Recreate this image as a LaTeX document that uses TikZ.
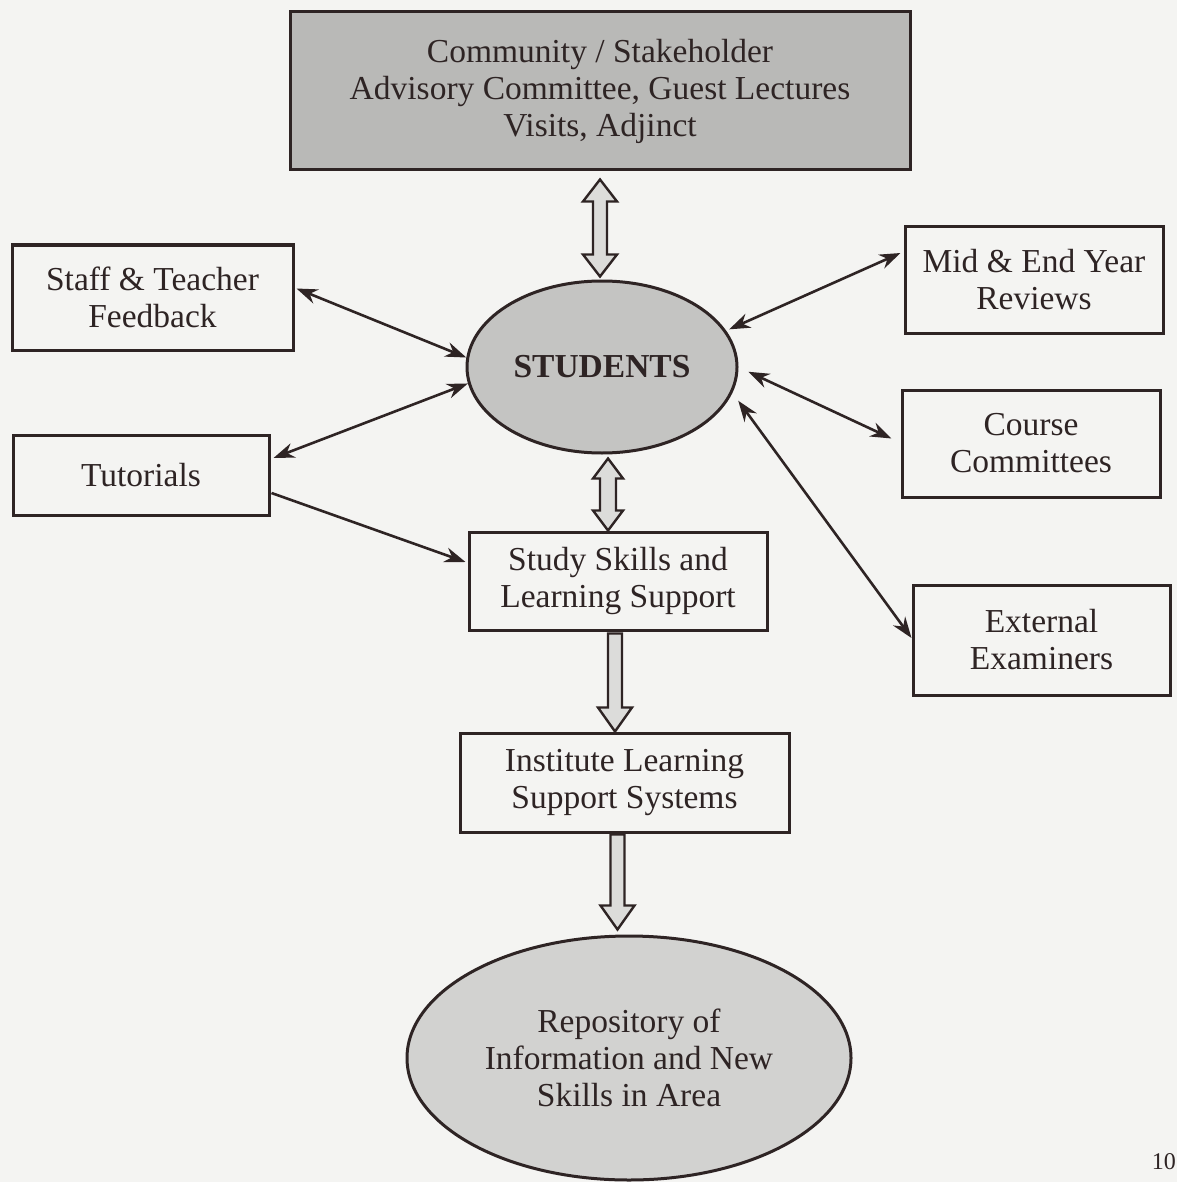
\documentclass[tikz,border=0pt]{standalone}
\usepackage{fontspec}
\setmainfont{Liberation Serif}
\usetikzlibrary{arrows.meta,shapes.geometric,calc}
\definecolor{ink}{HTML}{2E2424}
\definecolor{paper}{HTML}{F4F4F2}
\definecolor{boxgray}{HTML}{B9B9B7}
\definecolor{ellgray}{HTML}{C4C4C2}
\definecolor{repogray}{HTML}{D2D2D0}
\definecolor{arrowfill}{HTML}{DCDCDA}
\begin{document}
\begin{tikzpicture}[x=1pt,y=-1pt,
  txt/.style={font=\fontsize{33.5}{37}\selectfont,align=center,text=ink},
  box/.style={txt,draw=ink,line width=3pt,fill=paper,inner sep=0pt},
  oval/.style={txt,ellipse,draw=ink,line width=3pt,inner sep=0pt},
  conn/.style={draw=ink,line width=2.6pt,{Stealth[length=21pt,width=15pt]}-{Stealth[length=21pt,width=15pt]}},
  oneway/.style={draw=ink,line width=2.6pt,-{Stealth[length=21pt,width=15pt]}},
  hollow/.style={draw=ink,line width=2.4pt,fill=arrowfill,line join=miter}
]
\clip (0,0) rectangle (1177,1182);
\fill[paper] (0,0) rectangle (1177,1182);

% nodes
\node[box,fill=boxgray,minimum width=620pt,minimum height=158pt] (top) at (600,91)
  {Community / Stakeholder\\Advisory Committee, Guest Lectures\\Visits, Adjinct};
\node[oval,fill=ellgray,minimum width=270pt,minimum height=172pt] (stud) at (602,367)
  {\bfseries STUDENTS};
\node[box,minimum width=281pt,minimum height=105pt] (staff) at (152.5,297.5)
  {Staff \& Teacher\\Feedback};
\node[box,minimum width=256pt,minimum height=80pt] (tut) at (141,475)
  {Tutorials};
\node[box,minimum width=258pt,minimum height=106pt] (mid) at (1034,280)
  {Mid \& End Year\\Reviews};
\node[box,minimum width=258pt,minimum height=107pt] (course) at (1031,443.5)
  {Course\\Committees};
\node[box,minimum width=257pt,minimum height=110pt] (ext) at (1041.5,640)
  {External\\Examiners};
\node[box,minimum width=298pt,minimum height=98pt] (study) at (618,581)
  {Study Skills and\\Learning Support};
\node[box,minimum width=329pt,minimum height=99pt] (inst) at (624.5,782.5)
  {Institute Learning\\Support Systems};
\node[oval,fill=repogray,minimum width=444pt,minimum height=244pt] (repo) at (629,1058)
  {Repository of\\Information and New\\Skills in Area};
\node[txt,font=\fontsize{24}{28}\selectfont,anchor=east,inner sep=1pt] (pg) at (1177,1162) {10};

% thin connectors
\draw[conn] ($(staff.east)+(2,-9)$) -- (stud.176);
\draw[conn] ($(tut.east)+(3,-17)$) -- (stud.187);
\draw[oneway] ($(tut.east)+(1,18)$) -- ($(study.west)+(-2,-19)$);
\draw[conn] ($(mid.west)+(-3,-27)$) -- ($(stud.17)+(4,0)$);
\draw[conn] ($(course.west)+(-9,-5)$) -- ($(stud.-2)+(10,0)$);
\draw[conn] ($(ext.west)+(0,-2)$) -- ($(stud.-14)+(9,2)$);

% hollow double arrow: top <-> students
\draw[hollow] let \p1=(top.south), \p2=(stud.north) in
  (\x1,\y1-8pt) -- (\x1+17pt,\y1-30pt) -- (\x1+7pt,\y1-30pt) -- (\x1+7pt,\y2+25pt)
  -- (\x1+17pt,\y2+25pt) -- (\x1,\y2+3pt) -- (\x1-17pt,\y2+25pt) -- (\x1-7pt,\y2+25pt)
  -- (\x1-7pt,\y1-30pt) -- (\x1-17pt,\y1-30pt) -- cycle;
% hollow double arrow: students <-> study
\draw[hollow] let \p1=($(stud.south)+(6,0)$), \p2=(study.north) in
  (\x1,\y1-4pt) -- (\x1+15pt,\y1-24pt) -- (\x1+8pt,\y1-24pt) -- (\x1+8pt,\y2+20pt)
  -- (\x1+15pt,\y2+20pt) -- (\x1,\y2) -- (\x1-15pt,\y2+20pt) -- (\x1-8pt,\y2+20pt)
  -- (\x1-8pt,\y1-24pt) -- (\x1-15pt,\y1-24pt) -- cycle;
% hollow single arrow: study -> institute
\draw[hollow] let \p1=($(study.south)+(-3,0)$), \p2=(inst.north) in
  (\x1-7pt,\y1-2pt) -- (\x1+7pt,\y1-2pt) -- (\x1+7pt,\y2+24pt) -- (\x1+17pt,\y2+24pt)
  -- (\x1,\y2) -- (\x1-17pt,\y2+24pt) -- (\x1-7pt,\y2+24pt) -- cycle;
% hollow single arrow: institute -> repository
\draw[hollow] let \p1=($(inst.south)+(-7,0)$), \p2=(repo.north) in
  (\x1-7pt,\y1-1pt) -- (\x1+7pt,\y1-1pt) -- (\x1+7pt,\y2+29pt) -- (\x1+17pt,\y2+29pt)
  -- (\x1,\y2+5pt) -- (\x1-17pt,\y2+29pt) -- (\x1-7pt,\y2+29pt) -- cycle;
\end{tikzpicture}
\end{document}
